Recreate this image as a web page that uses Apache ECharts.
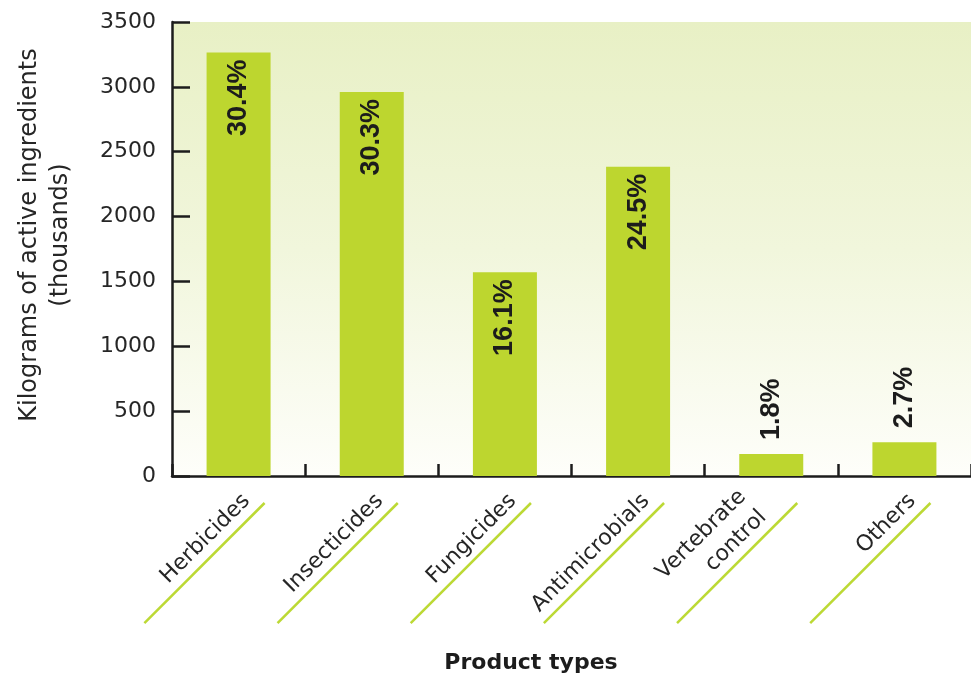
<!DOCTYPE html>
<html>
<head>
<meta charset="utf-8">
<script src="https://cdn.jsdelivr.net/npm/echarts@6/dist/echarts.min.js"></script>
<style>
  html, body { margin: 0; padding: 0; background: #ffffff; }
  #chart { width: 971px; height: 679px; }
</style>
</head>
<body>
<div id="chart"></div>
<script>
// Pesticide use by product type, kilograms of active ingredients (thousands)
const categories = ['Herbicides', 'Insecticides', 'Fungicides', 'Antimicrobials', 'Vertebrate\ncontrol', 'Others'];
const amounts = [3265, 2960, 1570, 2385, 170, 260];
const shares = ['30.4%', '30.3%', '16.1%', '24.5%', '1.8%', '2.7%'];
const yTicks = { min: 0, max: 3500, step: 500 };

const barGreen = '#bdd62f';
const lineGreen = '#bcd934';
const ink = '#1c1c1c';

const chart = echarts.init(document.getElementById('chart'), null, { renderer: 'canvas' });

// Tall bars carry their share inside near the top; short bars carry it above.
const barData = amounts.map((v, i) => {
  const inside = v > 1000;
  return {
    value: v,
    label: {
      formatter: shares[i],
      position: inside ? 'insideTop' : 'top',
      align: inside ? 'right' : 'left',
      distance: inside ? 7 : 14
    }
  };
});

const option = {
  animation: false,
  backgroundColor: '#ffffff',
  grid: {
    left: 172, top: 22, width: 800, height: 456,
    show: true,
    borderWidth: 0,
    backgroundColor: {
      type: 'linear', x: 0, y: 0, x2: 0, y2: 1,
      colorStops: [
        { offset: 0, color: '#e8f0c5' },
        { offset: 0.5, color: '#f1f6dc' },
        { offset: 1, color: '#fefefa' }
      ]
    }
  },
  xAxis: {
    type: 'category',
    data: categories,
    boundaryGap: true,
    axisLine: { lineStyle: { color: ink, width: 2.5 } },
    axisTick: { show: true, inside: true, length: 12, interval: 0, lineStyle: { color: ink, width: 2.5 } },
    axisLabel: { show: false },
    name: 'Product types',
    nameLocation: 'middle',
    nameGap: 176,
    nameTextStyle: {
      fontFamily: 'DejaVu Sans', fontWeight: 'bold', fontSize: 22, color: ink,
      padding: [0, 81, 0, 0]
    }
  },
  yAxis: {
    type: 'value',
    min: yTicks.min, max: yTicks.max, interval: yTicks.step,
    splitLine: { show: false },
    axisLine: { show: true, lineStyle: { color: ink, width: 2.5 } },
    axisTick: { show: true, inside: true, length: 18, lineStyle: { color: ink, width: 2.5 } },
    axisLabel: {
      fontFamily: 'DejaVu Sans', fontSize: 22, color: '#262626', margin: 16,
      formatter: v => String(v)
    },
    name: 'Kilograms of active ingredients\n(thousands)',
    nameLocation: 'middle',
    nameRotate: 90,
    nameGap: 96,
    nameTextStyle: {
      fontFamily: 'DejaVu Sans', fontSize: 24, color: '#262626', lineHeight: 31,
      align: 'center',
      padding: [0, 0, 0, 28]
    }
  },
  series: [
    {
      type: 'bar',
      data: barData,
      barWidth: 64,
      itemStyle: { color: barGreen },
      label: {
        show: true,
        rotate: 90,
        verticalAlign: 'middle',
        fontFamily: 'Liberation Sans',
        fontWeight: 'bold',
        fontSize: 27,
        color: ink
      }
    },
    {
      // Slanted category names, each resting on a green underline
      type: 'custom',
      data: categories.map((c, i) => [i]),
      clip: false,
      silent: true,
      z: 5,
      renderItem: function (params, api) {
        const idx = api.value(0);
        const p = api.coord([idx, 0]);
        const text = categories[idx];
        const multi = text.indexOf('\n') >= 0;
        return {
          type: 'group',
          x: p[0] + 26,
          y: p[1] + 27,
          rotation: Math.PI / 4,
          children: [
            {
              type: 'line',
              shape: { x1: 0, y1: 0, x2: -170, y2: 0 },
              style: { stroke: lineGreen, lineWidth: 2.5 }
            },
            {
              type: 'text',
              x: multi ? -32 : -9,
              y: -2,
              style: {
                text: text,
                align: 'right',
                verticalAlign: 'bottom',
                fontFamily: 'DejaVu Sans',
                fontSize: 22,
                lineHeight: 29,
                fill: '#262626'
              }
            }
          ]
        };
      }
    }
  ]
};

chart.setOption(option);
</script>
</body>
</html>
